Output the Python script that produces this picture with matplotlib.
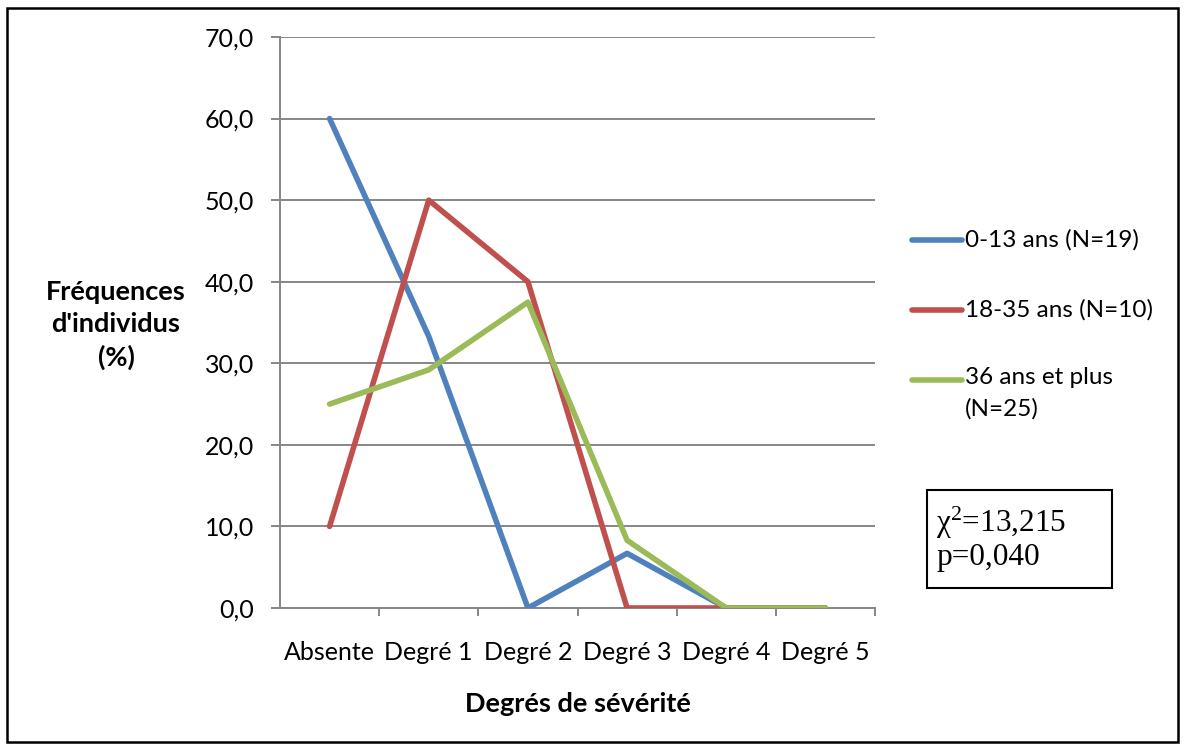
import matplotlib
matplotlib.use("Agg")
import matplotlib.pyplot as plt
from matplotlib.patches import Rectangle
from matplotlib.lines import Line2D

categories = ["Absente", "Degré 1", "Degré 2", "Degré 3", "Degré 4", "Degré 5"]
series_labels = ["0-13 ans (N=19)", "18-35 ans (N=10)", "36 ans et plus\n(N=25)"]
blue_vals = [60.0, 33.3, 0.0, 6.7, 0.0, 0.0]
red_vals = [10.0, 50.0, 40.0, 0.0, 0.0, 0.0]
green_vals = [25.0, 29.2, 37.5, 8.3, 0.0, 0.0]
colors = ["#4F81BD", "#C0504D", "#9BBB59"]
y_ticks = [0, 10, 20, 30, 40, 50, 60, 70]

W, H = 1186, 750
fig = plt.figure(figsize=(W / 100, H / 100), dpi=100)
FONT = "Lato"

def fx(px):
    return px / W

def fy(py):
    return 1 - py / H

ax = fig.add_axes([fx(280), fy(608), fx(875) - fx(280), fy(37) - fy(608)])
xs = list(range(len(categories)))
for vals, c in zip([blue_vals, red_vals, green_vals], colors):
    ax.plot(xs, vals, color=c, lw=4.0, solid_capstyle="round", solid_joinstyle="round", zorder=3)

ax.set_xlim(-0.5, len(categories) - 0.5)
ax.set_ylim(0, 70)
ax.set_yticks(y_ticks)
ax.set_yticklabels([f"{v:.1f}".replace(".", ",") for v in y_ticks], fontsize=18, family=FONT)
ax.yaxis.grid(True, color="#868686", lw=1.4)
ax.set_axisbelow(True)

ax.set_xticks([i - 0.5 for i in range(1, len(categories) + 1)])
ax.set_xticklabels([])
ax.set_xticks(xs, minor=True)
ax.set_xticklabels(categories, minor=True, fontsize=18, family=FONT)
ax.tick_params(axis="x", which="minor", length=0, pad=24)
ax.tick_params(axis="x", which="major", length=6, width=1.4, color="#868686", direction="out")
ax.tick_params(axis="y", length=6.5, width=1.4, color="#868686", direction="out", pad=12)

for s in ["top", "right"]:
    ax.spines[s].set_visible(False)
for s in ["left", "bottom"]:
    ax.spines[s].set_color("#868686")
    ax.spines[s].set_linewidth(1.4)

fig.text(fx(116), fy(325), "Fréquences\nd'individus\n(%)", ha="center", va="center",
         fontsize=19.5, fontweight="bold", family=FONT, linespacing=1.4)
fig.text(fx(578), fy(704), "Degrés de sévérité", ha="center", va="center",
         fontsize=19.5, fontweight="bold", family=FONT)

# legend
leg_y = [240, 310, 380]
for lab, c, y in zip(series_labels, colors, leg_y):
    fig.add_artist(Line2D([fx(912), fx(962)], [fy(y), fy(y)], color=c, lw=4.0,
                          solid_capstyle="round", transform=fig.transFigure))
    if "\n" in lab:
        fig.text(fx(965), fy(y - 13), lab, ha="left", va="top",
                 fontsize=17.5, family=FONT, linespacing=1.6)
    else:
        fig.text(fx(965), fy(y), lab, ha="left", va="center",
                 fontsize=17.5, family=FONT)

# chi box
fig.add_artist(Rectangle((fx(927), fy(588)), fx(1112) - fx(927), fy(490) - fy(588),
                         fill=False, ec="black", lw=1.5, transform=fig.transFigure))
fig.text(fx(936), fy(523), "χ$\\mathregular{^2}$=13,215", ha="left", va="center",
         fontsize=22.5, family="Liberation Serif")
fig.text(fx(936), fy(557), "p=0,040", ha="left", va="center",
         fontsize=22.5, family="Liberation Serif")

# outer frame
fig.add_artist(Rectangle((fx(7), fy(742)), fx(1178) - fx(7), fy(8) - fy(742),
                         fill=False, ec="black", lw=1.8, transform=fig.transFigure))

fig.savefig("out.png", dpi=100)
